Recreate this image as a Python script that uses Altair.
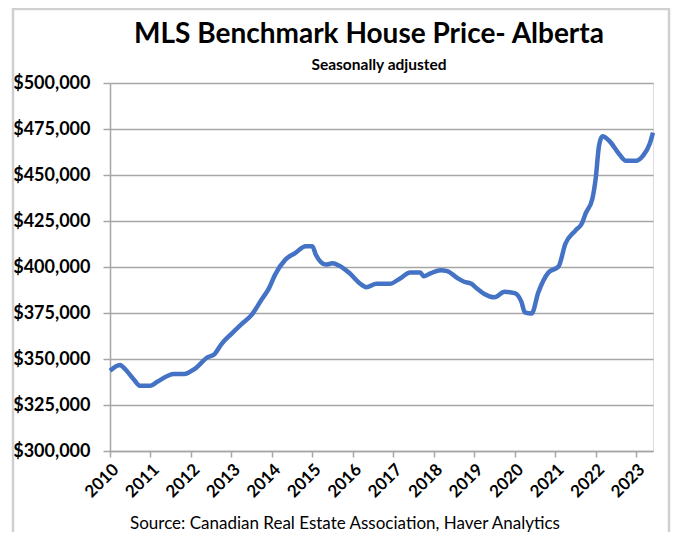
import altair as alt
import pandas as pd

# Month (YYYY-MM) and MLS benchmark price (thousands of $)
months = [
    "2010-01", "2010-04", "2010-05", "2010-08", "2010-10", "2011-01", "2011-03",
    "2011-08", "2011-11", "2012-02", "2012-06", "2012-08", "2012-10", "2013-01",
    "2013-04", "2013-07", "2013-10", "2013-12", "2014-02", "2014-05", "2014-08",
    "2014-11", "2015-01", "2015-02", "2015-05", "2015-07", "2015-09", "2015-12",
    "2016-03", "2016-05", "2016-08", "2016-12", "2017-03", "2017-06", "2017-09",
    "2017-10", "2017-12", "2018-03", "2018-05", "2018-08", "2018-10", "2018-12",
    "2019-02", "2019-04", "2019-07", "2019-10", "2020-01", "2020-03", "2020-04",
    "2020-06", "2020-08", "2020-11", "2021-02", "2021-04", "2021-07", "2021-09",
    "2021-10", "2021-12", "2022-01", "2022-02", "2022-03", "2022-05", "2022-08",
    "2022-10", "2023-01", "2023-03", "2023-05", "2023-06",
]
prices_k = [
    343.6, 346.7, 345.4, 339.0, 335.4, 335.4, 337.6,
    341.8, 341.8, 344.5, 351.0, 352.7, 358.0, 363.7,
    369.0, 374.0, 382.5, 388.0, 396.0, 404.0, 407.7,
    411.3, 411.3, 406.8, 401.3, 402.0, 400.7, 396.7,
    391.2, 389.0, 390.9, 390.9, 393.8, 397.0, 397.0,
    395.0, 396.5, 398.3, 397.8, 394.0, 392.0, 391.0,
    388.0, 385.3, 383.5, 386.5, 385.8, 381.0, 375.3,
    374.7, 386.2, 397.0, 400.3, 412.5, 419.8, 424.0,
    429.0, 437.0, 448.0, 466.0, 471.0, 468.6, 461.3,
    457.7, 457.7, 460.4, 466.8, 473.0,
]
year_ticks = list(range(2010, 2024))
price_ticks = list(range(300000, 500001, 25000))

title_text = "MLS Benchmark House Price- Alberta"
subtitle_text = "Seasonally adjusted"
source_text = "Source: Canadian Real Estate Association, Haver Analytics"

df = pd.DataFrame({"month": months, "price": [p * 1000 for p in prices_k]})
df["year"] = df["month"].str[:4].astype(int) + (df["month"].str[5:7].astype(int) - 1) / 12.0

W, H = 543, 368
FONT = "Lato"
GRID = "#A6A6A6"

line = alt.Chart(df).mark_line(color="#4472C4", strokeWidth=4.5, interpolate="monotone").encode(
    x=alt.X("year:Q",
            scale=alt.Scale(domain=[2010, 2023 + 5 / 12.0], nice=False, zero=False),
            axis=alt.Axis(values=year_ticks, format="d", labelAngle=-45, labelFont=FONT,
                          labelFontSize=17, labelFontWeight="bold", labelColor="black",
                          labelOverlap=False, labelBound=False, labelFlush=False,
                          labelPadding=4, tickSize=6, tickColor=GRID, domainColor=GRID,
                          domainWidth=1.5, tickWidth=1.5, grid=False, title=None)),
    y=alt.Y("price:Q",
            scale=alt.Scale(domain=[300000, 500000], nice=False, zero=False),
            axis=alt.Axis(values=price_ticks, format="$,.0f", labelFont=FONT,
                          labelFontSize=18, labelFontWeight="bold", labelColor="black",
                          labelOverlap=False,
                          labelPadding=13, tickSize=7, tickColor=GRID, tickWidth=1.5,
                          domainColor=GRID, domainWidth=1.5, gridColor=GRID,
                          gridWidth=1.5, title=None)),
)

one = pd.DataFrame({"t": [title_text], "s": [subtitle_text], "src": [source_text]})

border = alt.Chart(one).mark_rect(fill=None, stroke="#D0D0D0", strokeWidth=2.5).encode(
    x=alt.value(-97), x2=alt.value(559), y=alt.value(-74), y2=alt.value(470)
)
title = alt.Chart(one).mark_text(font=FONT, fontSize=28, fontWeight="bold", color="black",
                                 align="center", baseline="alphabetic").encode(
    text="t:N", x=alt.value(259), y=alt.value(-40)
)
subtitle = alt.Chart(one).mark_text(font=FONT, fontSize=15.5, fontWeight="bold", color="black",
                                    align="center", baseline="alphabetic").encode(
    text="s:N", x=alt.value(269), y=alt.value(-13)
)
source = alt.Chart(one).mark_text(font=FONT, fontSize=17, fontWeight="normal", color="black",
                                  align="center", baseline="alphabetic").encode(
    text="src:N", x=alt.value(235), y=alt.value(446)
)

chart = alt.layer(border, line, title, subtitle, source).properties(
    width=W, height=H,
    autosize=alt.AutoSizeParams(type="none"),
    padding={"left": 102, "top": 75, "right": 19, "bottom": 81},
).configure_view(stroke=None).configure(background="white")

chart.save("out.html", embed_options={"renderer": "svg", "actions": False})
